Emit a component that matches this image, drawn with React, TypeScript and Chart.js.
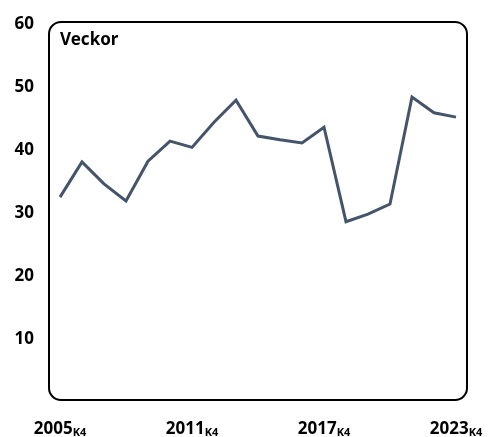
import { useEffect, useRef } from 'react';
import { Chart, registerables } from 'chart.js';

Chart.register(...registerables);

const years = ['2005', '2006', '2007', '2008', '2009', '2010', '2011', '2012', '2013', '2014', '2015', '2016', '2017', '2018', '2019', '2020', '2021', '2022', '2023'];
const quarterSuffix = 'K4';
const values = [32.2, 37.8, 34.3, 31.6, 37.9, 41.1, 40.1, 44.1, 47.6, 41.9, 41.3, 40.8, 43.3, 28.3, 29.5, 31.1, 48.1, 45.6, 44.9];
const shownYears = ['2005', '2011', '2017', '2023'];
const unitTitle = 'Veckor';
const yMin = 0;
const yMax = 60;
const yStep = 10;

const FONT = "'Noto Sans'";

const framePlugin = {
  id: 'framePlugin',
  beforeDatasetsDraw(chart: any) {
    const { ctx, chartArea } = chart;
    ctx.save();
    ctx.strokeStyle = '#000';
    ctx.lineWidth = 2;
    ctx.beginPath();
    ctx.roundRect(chartArea.left, chartArea.top, chartArea.right - chartArea.left, chartArea.bottom - chartArea.top, 12);
    ctx.stroke();
    ctx.fillStyle = '#000';
    ctx.font = `700 17px ${FONT}`;
    ctx.textAlign = 'left';
    ctx.textBaseline = 'alphabetic';
    ctx.fillText(unitTitle, chartArea.left + 11, chartArea.top + 23);
    ctx.restore();
  },
  afterDraw(chart: any) {
    const { ctx } = chart;
    const xs = chart.scales.x;
    ctx.save();
    ctx.fillStyle = '#000';
    ctx.textAlign = 'left';
    ctx.textBaseline = 'alphabetic';
    years.forEach((y, i) => {
      if (!shownYears.includes(y)) return;
      const x = xs.getPixelForValue(i);
      ctx.font = `700 17px ${FONT}`;
      const w1 = ctx.measureText(y).width;
      ctx.font = `700 11px ${FONT}`;
      const w2 = ctx.measureText(quarterSuffix).width;
      let start = x - (w1 + w2) / 2;
      if (start + w1 + w2 > chart.width) start = chart.width - w1 - w2;
      ctx.font = `700 17px ${FONT}`;
      ctx.fillText(y, start, 434);
      ctx.font = `700 11px ${FONT}`;
      ctx.fillText(quarterSuffix, start + w1, 436);
    });
    ctx.restore();
  },
};

export default function App() {
  const ref = useRef<HTMLCanvasElement>(null);
  useEffect(() => {
    const chart = new Chart(ref.current!, {
      type: 'line',
      data: {
        labels: years,
        datasets: [
          {
            data: values,
            borderColor: '#44546A',
            borderWidth: 3,
            pointRadius: 0,
            tension: 0,
            fill: false,
          },
        ],
      },
      options: {
        responsive: false,
        animation: false,
        layout: { padding: { top: 22, right: 21, bottom: 37, left: 0 } },
        plugins: { legend: { display: false }, tooltip: { enabled: false } },
        scales: {
          x: {
            offset: true,
            grid: { display: false },
            border: { display: false },
            ticks: { display: false },
            afterFit: (s: any) => {
              s.height = 0;
            },
          },
          y: {
            min: yMin,
            max: yMax,
            ticks: {
              stepSize: yStep,
              padding: 7,
              labelOffset: 2,
              color: '#000',
              font: { family: FONT, weight: 700, size: 17 },
              callback: (v: any) => (v === 0 ? '' : String(v)),
            },
            grid: { display: false },
            border: { display: false },
            afterFit: (s: any) => {
              s.width = 49;
            },
          },
        },
      },
      plugins: [framePlugin],
    });
    return () => chart.destroy();
  }, []);
  return (
    <div style={{ position: 'fixed', left: 0, top: 0, width: 488, height: 437 }}>
      <canvas ref={ref} width={488} height={437} />
    </div>
  );
}
